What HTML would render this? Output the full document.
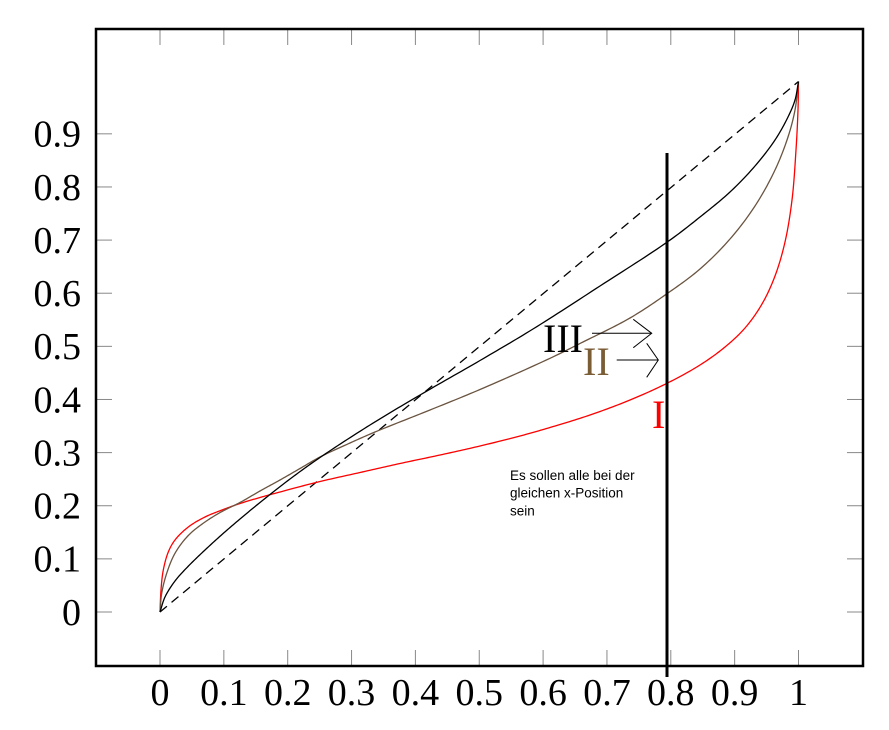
<!DOCTYPE html>
<html>
<head>
<meta charset="utf-8">
<style>
  html,body{margin:0;padding:0;background:#fff;}
  svg{display:block;}
  .tl{font-family:"Liberation Serif",serif;font-size:38px;fill:#000;}
  .lab{font-family:"Liberation Serif",serif;font-size:40px;}
  .note{font-family:"Liberation Sans",sans-serif;font-size:13.5px;fill:#000;}
</style>
</head>
<body>
<svg id="s" width="889" height="730" viewBox="0 0 889 730" xmlns="http://www.w3.org/2000/svg">
  <rect x="0" y="0" width="889" height="730" fill="#fff"/>
  <g id="ticks" stroke="#888" stroke-width="1"></g>
  <g id="labels"></g>

  <line x1="160" y1="612" x2="798.5" y2="81.5" stroke="#000" stroke-width="1.3" stroke-dasharray="9 6"/>

  <path id="red" fill="none" stroke="#ff0000" stroke-width="1.3"/>
  <path id="brown" fill="none" stroke="#6a5440" stroke-width="1.3"/>
  <path id="black" fill="none" stroke="#000" stroke-width="1.3"/>

  <rect x="96" y="29" width="767" height="637" fill="none" stroke="#000" stroke-width="2.5"/>

  <line x1="667" y1="153" x2="667" y2="677" stroke="#000" stroke-width="3"/>

  <text class="lab" x="543" y="352" fill="#000">III</text>
  <text class="lab" x="583" y="375" fill="#7a5c35">II</text>
  <text class="lab" x="652" y="428" fill="#ff0000">I</text>

  <g stroke="#000" stroke-width="1" fill="none">
    <line x1="592" y1="333.3" x2="651.7" y2="333.3"/>
    <polyline points="633.3,319.3 651.7,333.3 633.3,347.7"/>
    <line x1="616.7" y1="360" x2="658.3" y2="360"/>
    <polyline points="646.7,343.3 658.3,360 646.7,377.3"/>
  </g>

  <text class="note" x="510" y="480">Es sollen alle bei der</text>
  <text class="note" x="510" y="497.7">gleichen x-Position</text>
  <text class="note" x="510" y="515.3">sein</text>
</svg>
<script>
(function(){
  var NS="http://www.w3.org/2000/svg";
  var ticks=document.getElementById("ticks");
  var labels=document.getElementById("labels");
  function mk(tag,attrs,parent,txt){
    var e=document.createElementNS(NS,tag);
    for(var k in attrs) e.setAttribute(k,attrs[k]);
    if(txt!==undefined) e.textContent=txt;
    parent.appendChild(e); return e;
  }
  var xl=["0","0.1","0.2","0.3","0.4","0.5","0.6","0.7","0.8","0.9","1"];
  for(var k=0;k<=10;k++){
    var x=160+63.85*k;
    mk("line",{x1:x,y1:666,x2:x,y2:650},ticks);
    mk("line",{x1:x,y1:29,x2:x,y2:45},ticks);
    mk("text",{x:x,y:705,"text-anchor":"middle","class":"tl"},labels,xl[k]);
  }
  for(var k=0;k<=9;k++){
    var y=612-53.13*k;
    mk("line",{x1:96,y1:y,x2:112,y2:y},ticks);
    mk("line",{x1:863,y1:y,x2:847,y2:y},ticks);
    mk("text",{x:81,y:y+12.8,"text-anchor":"end","class":"tl"},labels,xl[k]);
  }

  function cr(pts){
    var n=pts.length, out=[pts[0]];
    function d(a,b){return Math.pow(Math.hypot(b[0]-a[0],b[1]-a[1]),0.5)||1e-4;}
    for(var i=0;i<n-1;i++){
      var p1=pts[i], p2=pts[i+1];
      var p0=i>0?pts[i-1]:[2*p1[0]-p2[0],2*p1[1]-p2[1]];
      var p3=i+2<n?pts[i+2]:[2*p2[0]-p1[0],2*p2[1]-p1[1]];
      var t0=0,t1=t0+d(p0,p1),t2=t1+d(p1,p2),t3=t2+d(p2,p3);
      for(var s=1;s<=16;s++){
        var t=t1+(t2-t1)*s/16;
        var L=function(a,b,ta,tb){return [(tb-t)/(tb-ta)*a[0]+(t-ta)/(tb-ta)*b[0],(tb-t)/(tb-ta)*a[1]+(t-ta)/(tb-ta)*b[1]];};
        var A1=L(p0,p1,t0,t1),A2=L(p1,p2,t1,t2),A3=L(p2,p3,t2,t3);
        var B1=L(A1,A2,t0,t2),B2=L(A2,A3,t1,t3);
        out.push(L(B1,B2,t1,t2));
      }
    }
    return "M"+out.map(function(p){return p[0].toFixed(2)+","+p[1].toFixed(2);}).join(" L");
  }
  var black=[[160,612],[165,597],[175,581],[188,566.5],[205,550],[222,534.5],[240,519],[260,502.5],[290,479],[320,457.5],[370,425],[420,395],[480,360.5],[533,329],[600,286],[668,241.5],[700,217],[730,192],[755,166],[775,140],[788,117],[795,100],[798.5,81.5]];
  var brown=[[160,612],[161.7,593.3],[166.7,573.3],[175,553.3],[188.3,535.5],[205,522],[222,511.5],[240,502.5],[260,491],[280,480],[300,468.5],[320,457],[350,443],[375,432],[430,410],[480,389.5],[550,358.3],[583,342],[630,318],[668,293],[700,269],[730,239],[755,206],[775,170],[788,137],[795,110],[798.5,81.5]];
  var red=[[160,612],[161,590],[163.3,570],[168.3,552],[175,540],[188.3,527],[205,517],[222,510],[240,503.5],[260,497.5],[280,492],[318,482],[360,472.5],[400,463.5],[440,455],[480,446],[520,436],[550,427.5],[590,415],[630,400],[667,383.3],[700,365],[725,347],[745,328],[762,304],[775,276],[785,242],[792,200],[796,150],[798,110],[798.5,81.5]];
  document.getElementById("black").setAttribute("d",cr(black));
  document.getElementById("brown").setAttribute("d",cr(brown));
  document.getElementById("red").setAttribute("d",cr(red));
})();
</script>
</body>
</html>
